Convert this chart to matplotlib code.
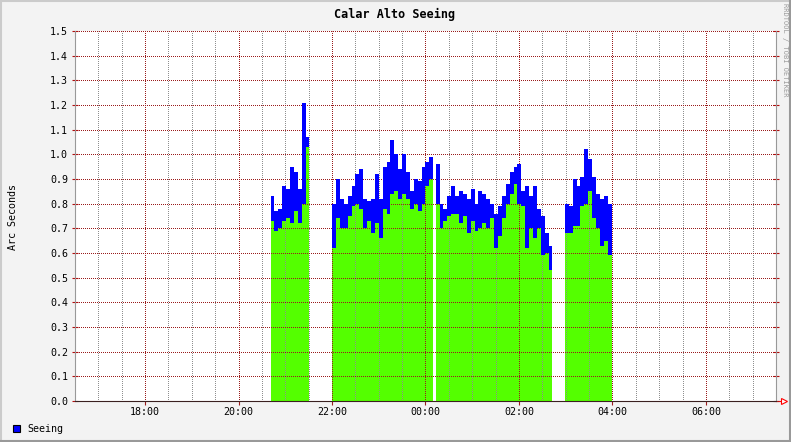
import numpy as np
import matplotlib
matplotlib.use('Agg')
import matplotlib.pyplot as plt
from matplotlib.lines import Line2D
from matplotlib.patches import Rectangle


# seeing samples, 5 minute steps; hi/lo = range of the seeing within each step
STEP_MIN = 5
SEG_STARTS = [20 + 41 / 60, 22.0, 24 + 13 / 60, 26 + 59 / 60]   # hours since midnight of first day

SEG1_HI = [0.83, 0.77, 0.78, 0.87, 0.86, 0.95, 0.93, 0.86, 1.21, 1.07]
SEG1_LO = [0.73, 0.69, 0.70, 0.73, 0.74, 0.72, 0.77, 0.72, 0.80, 1.03]

SEG2_HI = [0.80, 0.90, 0.82, 0.80, 0.83, 0.87, 0.92, 0.94, 0.82, 0.81, 0.82, 0.92, 0.82,
           0.95, 0.97, 1.06, 1.00, 0.94, 1.00, 0.93, 0.85, 0.90, 0.89, 0.95, 0.97, 0.99]
SEG2_LO = [0.62, 0.74, 0.70, 0.70, 0.75, 0.79, 0.80, 0.78, 0.70, 0.73, 0.68, 0.72, 0.66,
           0.78, 0.76, 0.84, 0.85, 0.82, 0.84, 0.82, 0.78, 0.80, 0.77, 0.80, 0.87, 0.90]

SEG3_HI = [0.96, 0.80, 0.78, 0.83, 0.87, 0.83, 0.85, 0.84, 0.82, 0.86, 0.80, 0.85, 0.84, 0.82, 0.80,
           0.76, 0.79, 0.83, 0.88, 0.93, 0.95, 0.96, 0.85, 0.87, 0.83, 0.87, 0.78, 0.75, 0.68, 0.63]
SEG3_LO = [0.80, 0.70, 0.73, 0.75, 0.76, 0.76, 0.72, 0.75, 0.68, 0.73, 0.69, 0.70, 0.72, 0.70, 0.74,
           0.62, 0.67, 0.74, 0.80, 0.84, 0.88, 0.80, 0.79, 0.62, 0.70, 0.66, 0.70, 0.59, 0.60, 0.53]

SEG4_HI = [0.80, 0.79, 0.90, 0.87, 0.91, 1.02, 0.98, 0.91, 0.84, 0.82, 0.83, 0.80]
SEG4_LO = [0.68, 0.68, 0.71, 0.71, 0.79, 0.80, 0.85, 0.74, 0.70, 0.63, 0.65, 0.59]

X_TICKS = [18, 20, 22, 24, 26, 28, 30]
X_LABELS = ['18:00', '20:00', '22:00', '00:00', '02:00', '04:00', '06:00']
X_RANGE = (16.5, 31.5)
Y_TICKS = [round(0.1 * i, 1) for i in range(16)]

W, H = 791, 442
MONO = 'DejaVu Sans Mono'
GREEN = '#54ff00'
BLUE = '#0000ff'
MGRID = '#9a1c1c'


def main():
    fig = plt.figure(figsize=(W / 100, H / 100), dpi=100, facecolor='#f3f3f3')
    left, right, top, bottom = 75, 776, 31, 401
    ax = fig.add_axes([left / W, 1 - bottom / H, (right - left) / W, (bottom - top) / H])
    ax.set_facecolor('white')

    segs = [(SEG1_HI, SEG1_LO), (SEG2_HI, SEG2_LO), (SEG3_HI, SEG3_LO), (SEG4_HI, SEG4_LO)]
    for start, (hi, lo) in zip(SEG_STARTS, segs):
        n = len(hi)
        t = start + np.arange(n + 1) * STEP_MIN / 60
        hi = np.append(hi, hi[-1])
        lo = np.append(lo, lo[-1])
        ax.fill_between(t, 0, lo, step='post', color=GREEN, lw=0, zorder=2)
        ax.fill_between(t, lo, hi, step='post', color=BLUE, lw=0, zorder=3)

    ax.set_xlim(*X_RANGE)
    ax.set_ylim(0, 1.5)
    ax.set_xticks(X_TICKS)
    ax.set_xticklabels(X_LABELS)
    ax.set_xticks(np.arange(X_RANGE[0], X_RANGE[1] + 0.01, 0.5), minor=True)
    ax.set_yticks(Y_TICKS)
    ax.set_yticklabels(['%.1f' % v for v in Y_TICKS])

    # 1px on / 1px off, shifted half a pixel so dots land on whole pixels
    dots = (0.5, (1, 1))
    ax.grid(True, which='minor', axis='x', color='#8f8f8f', lw=0.72, ls=dots,
            snap=True, zorder=4)
    ax.grid(True, which='major', axis='both', color=MGRID, lw=0.72, ls=dots,
            snap=True, zorder=5)
    ax.set_axisbelow(False)

    ax.tick_params(axis='y', which='major', direction='inout', length=4, width=0.8,
                   color='#b01010', labelsize=7.2, pad=3, right=True)
    ax.tick_params(axis='x', which='major', direction='out', length=3, width=0.8,
                   color=MGRID, labelsize=7.2, pad=1)
    ax.tick_params(axis='x', which='minor', length=0)
    for lab in ax.get_xticklabels() + ax.get_yticklabels():
        lab.set_family(MONO)

    ax.spines['top'].set_visible(False)
    ax.spines['left'].set_color('#999999')
    ax.spines['right'].set_color('#999999')
    ax.spines['bottom'].set_color('#3a2020')
    for s in ax.spines.values():
        s.set_linewidth(0.8)
        s.set_zorder(6)

    # arrow at the end of the time axis
    ax.plot([1.0, 1.012], [0, 0], color='red', lw=0.8, transform=ax.transAxes, clip_on=False)
    ax.plot([1.012], [0], marker='>', ms=5, mfc='white', mec='red', mew=0.8,
            transform=ax.transAxes, clip_on=False)

    fig.text(395 / W, 1 - 14 / H, 'Calar Alto Seeing', family=MONO, fontweight='bold',
             fontsize=8.5, ha='center', va='center')
    fig.text(13 / W, 1 - 217 / H, 'Arc Seconds', family=MONO, fontsize=7.2,
             rotation=90, ha='center', va='center')
    fig.text(785 / W, 1 - 50 / H, 'RRDTOOL / TOBI OETIKER', family=MONO, fontsize=5,
             rotation=270, ha='center', va='center', color='#9a9a9a')

    # legend
    fig.patches.append(Rectangle((13 / W, 1 - 432 / H), 7 / W, 7 / H, transform=fig.transFigure,
                                 facecolor=BLUE, edgecolor='black', lw=0.8))
    fig.text(27 / W, 1 - 428.5 / H, 'Seeing', family=MONO, fontsize=7.2, ha='left', va='center')

    # shaded frame
    fig.add_artist(Line2D([0, 1], [1 - 1 / H, 1 - 1 / H], transform=fig.transFigure,
                          color='#cbcbcb', lw=1.5))
    fig.add_artist(Line2D([1 / W, 1 / W], [0, 1], transform=fig.transFigure,
                          color='#cbcbcb', lw=1.5))
    fig.add_artist(Line2D([0, 1], [1 / H, 1 / H], transform=fig.transFigure,
                          color='#999999', lw=1.5))
    fig.add_artist(Line2D([1 - 1 / W, 1 - 1 / W], [0, 1], transform=fig.transFigure,
                          color='#999999', lw=1.5))

    fig.savefig('out.png', dpi=100, facecolor=fig.get_facecolor())


if __name__ == '__main__':
    main()
